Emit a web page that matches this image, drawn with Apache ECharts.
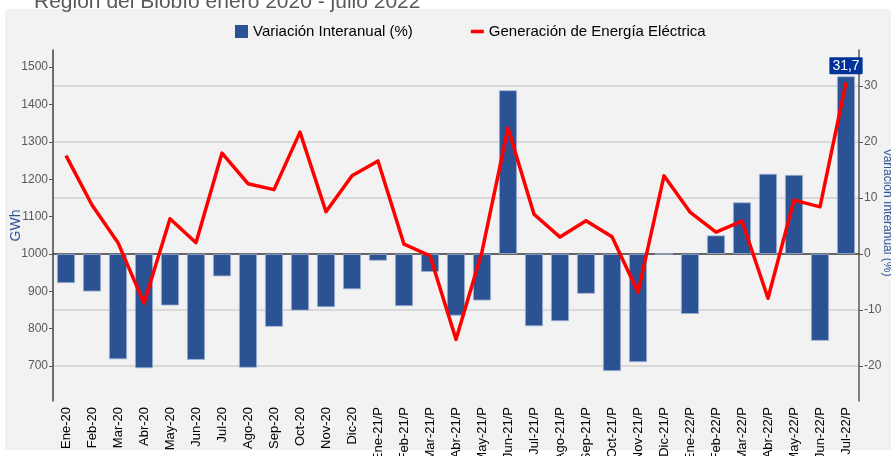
<!DOCTYPE html>
<html>
<head>
<meta charset="utf-8">
<script src="https://cdn.jsdelivr.net/npm/echarts@6/dist/echarts.min.js"></script>
<style>
  html, body { margin: 0; padding: 0; background: #fff; }
  #chart { width: 891px; height: 456px; }
</style>
</head>
<body>
<div id="chart"></div>
<script>
var categories = ['Ene-20', 'Feb-20', 'Mar-20', 'Abr-20', 'May-20', 'Jun-20', 'Jul-20', 'Ago-20', 'Sep-20', 'Oct-20', 'Nov-20', 'Dic-20',
  'Ene-21/P', 'Feb-21/P', 'Mar-21/P', 'Abr-21/P', 'May-21/P', 'Jun-21/P', 'Jul-21/P', 'Ago-21/P', 'Sep-21/P', 'Oct-21/P', 'Nov-21/P', 'Dic-21/P',
  'Ene-22/P', 'Feb-22/P', 'Mar-22/P', 'Abr-22/P', 'May-22/P', 'Jun-22/P', 'Jul-22/P'];

// variación interanual (%), eje derecho
var variacion = [-5.2, -6.7, -18.8, -20.4, -9.2, -18.9, -4.0, -20.3, -13.0, -10.1, -9.5, -6.3,
  -1.2, -9.3, -3.2, -11.0, -8.3, 29.2, -12.9, -12.0, -7.1, -20.9, -19.3, 0.0,
  -10.7, 3.3, 9.2, 14.3, 14.1, -15.5, 31.7];

// generación (GWh), eje izquierdo
var generacion = [1263, 1131, 1030, 868, 1094, 1030, 1270, 1188, 1172, 1326, 1113, 1209,
  1249, 1026, 995, 771, 1006, 1337, 1106, 1045, 1089, 1046, 897, 1209,
  1112, 1058, 1088, 881, 1144, 1126, 1459];

var gwhTicks = [700, 800, 900, 1000, 1100, 1200, 1300, 1400, 1500];
var pctTicks = [-20, -10, 0, 10, 20, 30];

var chart = echarts.init(document.getElementById('chart'));

var barData = variacion.map(function (v, i) {
  if (i !== variacion.length - 1) return v;
  return {
    value: v,
    label: {
      show: true,
      position: 'top',
      distance: 2,
      formatter: function (p) { return p.value.toFixed(1).replace('.', ','); },
      color: '#fff',
      fontSize: 14,
      backgroundColor: '#003399',
      padding: [2, 3, 1, 3],
      borderRadius: 1
    }
  };
});

var option = {
  backgroundColor: '#fff',
  animation: false,
  textStyle: { fontFamily: 'Liberation Sans, Arial, sans-serif' },
  title: {
    text: 'Región del Biobío enero 2020 - julio 2022',
    left: 29,
    top: -13,
    textStyle: { fontSize: 21, fontWeight: 'normal', color: '#595959' }
  },
  graphic: [{
    type: 'rect',
    z: -10,
    shape: { x: 5, y: 9, width: 886, height: 441 },
    style: { fill: '#f2f2f2' }
  }],
  legend: {
    left: 230,
    top: 19,
    itemGap: 58,
    itemWidth: 13,
    itemHeight: 13,
    textStyle: { fontSize: 15, color: '#000' },
    data: [
      { name: 'Variación Interanual (%)', icon: 'rect', itemStyle: { borderWidth: 0 } },
      { name: 'Generación de Energía Eléctrica', icon: 'path://M0,0 H11 V3 H0 Z' }
    ]
  },
  grid: { left: 53, right: 32, top: 50, bottom: 55, outerBoundsMode: 'none' },
  xAxis: {
    type: 'category',
    data: categories,
    axisLine: { lineStyle: { color: '#404040', width: 1.5 } },
    axisTick: { alignWithLabel: true, length: 4, lineStyle: { color: '#595959' } },
    axisLabel: { rotate: 90, fontSize: 13, color: '#000', margin: 6, interval: 0 }
  },
  yAxis: [{
    type: 'value',
    min: 606,
    max: 1546,
    name: 'GWh',
    nameLocation: 'middle',
    nameGap: 30,
    nameMoveOverlap: false,
    nameTextStyle: { color: '#2f5597', fontSize: 14 },
    axisLine: { show: true, lineStyle: { color: '#404040', width: 1.5 } },
    axisTick: { show: true, length: 4, customValues: gwhTicks, lineStyle: { color: '#595959' } },
    axisLabel: { fontSize: 12, color: '#595959', margin: 5, customValues: gwhTicks,
      formatter: function (v) { return String(v); } },
    splitLine: { show: false }
  }, {
    type: 'value',
    min: -26.25,
    max: 36.4,
    name: 'Variación Interanual (%)',
    nameLocation: 'middle',
    nameRotate: -90,
    nameGap: 22,
    nameMoveOverlap: false,
    nameTextStyle: { color: '#2f5597', fontSize: 12, padding: [0, 26, 0, 0] },
    axisLine: { show: true, lineStyle: { color: '#595959', width: 1.5 } },
    axisTick: { show: true, length: 4, customValues: pctTicks, lineStyle: { color: '#595959' } },
    axisLabel: { fontSize: 12, color: '#595959', margin: 5, customValues: pctTicks },
    splitLine: { show: true, lineStyle: { color: '#d9d9d9', width: 2 } }
  }],
  series: [{
    name: 'Variación Interanual (%)',
    type: 'bar',
    yAxisIndex: 1,
    barWidth: 18,
    itemStyle: { color: '#2b5292', borderColor: '#9fb3d6', borderWidth: 0.8 },
    data: barData
  }, {
    name: 'Generación de Energía Eléctrica',
    type: 'line',
    yAxisIndex: 0,
    symbol: 'none',
    lineStyle: { color: '#ff0000', width: 3.5, join: 'round' },
    itemStyle: { color: '#ff0000' },
    data: generacion
  }]
};

chart.setOption(option);
</script>
</body>
</html>
